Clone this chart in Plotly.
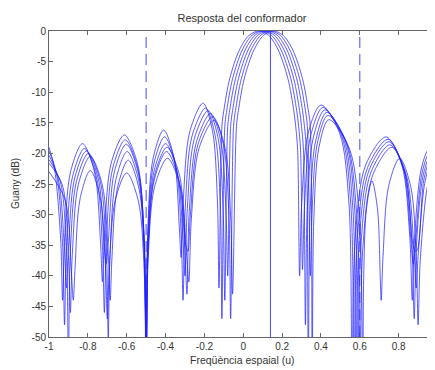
import plotly.graph_objects as go

# ---- data ----
U_A = [-1.0, -0.972, -0.94, -0.93,
       -0.92, -0.889, -0.8275, -0.766, -0.735, -0.725,
       -0.714, -0.68, -0.6125, -0.545, -0.511, -0.5,
       -0.491, -0.464, -0.41, -0.356, -0.329, -0.32,
       -0.309, -0.275, -0.207, -0.158, -0.133, -0.125,
       -0.11, -0.10, -0.07, -0.02, 0.03, 0.08, 0.13, 0.18, 0.23, 0.26, 0.27, 0.28, 0.29,
       0.301, 0.334, 0.40, 0.496, 0.544, 0.56,
       0.5775, 0.63, 0.735, 0.816, 0.8565, 0.87,
       0.881, 0.914, 0.95, 0.985]
DB_A = [-19.0, -22.4, -34.0, -44,
        -34.4, -23.0, -18.4, -23.0, -34.4, -41,
        -33.0, -21.6, -17.0, -21.6, -33.0, -60,
        -32.2, -20.8, -16.2, -20.8, -32.2, -37,
        -27.8, -16.4, -11.8, -16.4, -27.8, -42,
        -15.6, -13.0, -7.8, -3.1, -0.7, 0, -0.7, -3.1, -7.8, -13.0, -15.6, -19.5, -40,
        -28.1, -16.7, -12.1, -16.7, -28.1, -55,
        -33.3, -21.9, -17.3, -21.9, -33.3, -44,
        -34.3, -22.9, -19.4, -18.3]

U_B = [-1.0, -0.962, -0.9305, -0.92,
       -0.91, -0.879, -0.8175, -0.756, -0.725, -0.715,
       -0.704, -0.672, -0.6075, -0.543, -0.511, -0.5,
       -0.4905, -0.462, -0.405, -0.348, -0.3195, -0.31,
       -0.298, -0.264, -0.194, -0.144, -0.118, -0.11,
       -0.095, -0.085, -0.055, -0.005, 0.045, 0.095, 0.145, 0.195, 0.245, 0.275, 0.285, 0.295, 0.305,
       0.3155, 0.347, 0.41, 0.506, 0.554, 0.57,
       0.5875, 0.64, 0.745, 0.823, 0.862, 0.875,
       0.886, 0.919, 0.955, 0.985]
DB_B = [-19.6, -23.2, -34.6, -48,
        -35.2, -23.8, -19.2, -23.8, -35.2, -46,
        -33.8, -22.4, -17.8, -22.4, -33.8, -60,
        -33.3, -21.9, -17.3, -21.9, -33.3, -44,
        -28.6, -17.2, -12.6, -17.2, -28.6, -47,
        -15.6, -13.0, -7.8, -3.1, -0.7, 0, -0.7, -3.1, -7.8, -13.0, -15.6, -19.5, -39,
        -28.5, -17.1, -12.5, -17.1, -28.5, -60,
        -33.7, -22.3, -17.7, -22.3, -33.7, -38,
        -34.8, -23.4, -19.9, -18.8]

U_C = [-1.0, -0.952, -0.9205, -0.91,
       -0.90, -0.869, -0.8075, -0.746, -0.715, -0.705,
       -0.695, -0.664, -0.6025, -0.541, -0.51, -0.5,
       -0.49, -0.46, -0.40, -0.34, -0.31, -0.30,
       -0.288, -0.252, -0.181, -0.129, -0.104, -0.095,
       -0.08, -0.07, -0.04, 0.01, 0.06, 0.11, 0.16, 0.21, 0.26, 0.29, 0.30, 0.31, 0.32,
       0.33, 0.36, 0.42, 0.516, 0.564, 0.58,
       0.597, 0.648, 0.75, 0.828, 0.867, 0.88,
       0.891, 0.924, 0.96, 0.985]
DB_C = [-20.3, -24.2, -35.6, -42,
        -35.6, -24.2, -19.6, -24.2, -35.6, -38,
        -34.5, -23.1, -18.5, -23.1, -34.5, -60,
        -34.4, -23.0, -18.4, -23.0, -34.4, -40,
        -29.0, -17.6, -13.0, -17.6, -29.0, -44,
        -15.6, -13.0, -7.8, -3.1, -0.7, 0, -0.7, -3.1, -7.8, -13.0, -15.6, -19.5, -48,
        -28.9, -17.5, -12.9, -17.5, -28.9, -56,
        -34.1, -22.7, -18.1, -22.7, -34.1, -47,
        -35.3, -23.9, -20.3, -19.3]

U_D = [-1.0, -0.942, -0.9105, -0.90,
       -0.89, -0.859, -0.7975, -0.736, -0.705, -0.695,
       -0.685, -0.656, -0.5975, -0.539, -0.51, -0.5,
       -0.4895, -0.458, -0.395, -0.332, -0.3005, -0.29,
       -0.278, -0.241, -0.168, -0.115, -0.089, -0.08,
       -0.065, -0.055, -0.025, 0.025, 0.075, 0.125, 0.175, 0.225, 0.275, 0.305, 0.315, 0.325, 0.335,
       0.3445, 0.373, 0.43, 0.526, 0.574, 0.59,
       0.6065, 0.656, 0.755, 0.833, 0.872, 0.885,
       0.896, 0.929, 0.96, 0.985]
DB_D = [-21.0, -24.6, -36.0, -55,
        -36.0, -24.6, -20.0, -24.6, -36.0, -50,
        -35.7, -24.3, -19.7, -24.3, -35.7, -60,
        -35.7, -24.3, -19.7, -24.3, -35.7, -43,
        -29.5, -18.1, -13.5, -18.1, -29.5, -40,
        -15.6, -13.0, -7.8, -3.1, -0.7, 0, -0.7, -3.1, -7.8, -13.0, -15.6, -19.5, -55,
        -29.3, -17.9, -13.3, -17.9, -29.3, -60,
        -34.6, -23.2, -18.6, -23.2, -34.6, -36,
        -35.8, -24.4, -21.0, -19.8]

U_E = [-1.0, -0.932, -0.9005, -0.89,
       -0.88, -0.849, -0.7875, -0.726, -0.695, -0.685,
       -0.676, -0.648, -0.5925, -0.537, -0.509, -0.5,
       -0.489, -0.457, -0.3925, -0.328, -0.296, -0.285,
       -0.272, -0.234, -0.157, -0.102, -0.074, -0.065,
       -0.05, -0.04, -0.01, 0.04, 0.09, 0.14, 0.19, 0.24, 0.29, 0.32, 0.33, 0.345,
       0.354, 0.381, 0.435, 0.534, 0.5835, 0.60,
       0.6165, 0.666, 0.765, 0.84, 0.8775, 0.89,
       0.901, 0.934, 0.965, 0.985]
DB_E = [-21.6, -25.1, -36.5, -46,
        -36.5, -25.1, -20.5, -25.1, -36.5, -44,
        -37.1, -25.7, -21.1, -25.7, -37.1, -60,
        -35.0, -23.6, -19.0, -23.6, -35.0, -36,
        -30.0, -18.6, -14.0, -18.6, -30.0, -47,
        -15.6, -13.0, -7.8, -3.1, -0.7, 0, -0.7, -3.1, -7.8, -13.0, -15.6, -40,
        -29.8, -18.4, -13.8, -18.4, -29.8, -60,
        -35.0, -23.6, -19.0, -23.6, -35.0, -42,
        -36.3, -24.9, -21.3, -20.3]

U_F = [-1.0, -0.917, -0.8855, -0.875,
       -0.866, -0.84, -0.7875, -0.735, -0.709, -0.70,
       -0.69, -0.66, -0.60, -0.54, -0.51, -0.5,
       -0.489, -0.456, -0.39, -0.324, -0.291, -0.28,
       -0.267, -0.228, -0.15, -0.093, -0.0645, -0.055,
       -0.035, -0.025, 0.005, 0.055, 0.105, 0.155, 0.205, 0.255, 0.305, 0.335, 0.345, 0.355,
       0.3635, 0.389, 0.44, 0.545, 0.5975, 0.615,
       0.6198, 0.634, 0.6625, 0.691, 0.7053, 0.71,
       0.7195, 0.748, 0.805, 0.862, 0.8905, 0.90,
       0.911, 0.944, 0.97, 0.985]
DB_F = [-23.0, -27.6, -39.0, -44,
        -38.8, -27.4, -22.8, -27.4, -38.8, -47,
        -39.2, -27.8, -23.2, -27.8, -39.2, -60,
        -36.8, -25.4, -20.8, -25.4, -36.8, -41,
        -30.6, -19.2, -14.6, -19.2, -30.6, -43,
        -15.6, -13.0, -7.8, -3.1, -0.7, 0, -0.7, -3.1, -7.8, -13.0, -15.6, -60,
        -30.5, -19.1, -14.5, -19.1, -30.5, -60,
        -40.5, -29.1, -24.5, -29.1, -40.5, -44,
        -36.8, -25.4, -20.8, -25.4, -36.8, -48,
        -37.5, -26.1, -22.5, -21.5]

INTERFERENCE_U = [-0.5, 0.6]   # dashed lines
STEERING_U = [0.14]            # solid line

X_TICKS = [-1, -0.8, -0.6, -0.4, -0.2, 0, 0.2, 0.4, 0.6, 0.8, 1]
X_TICK_LABELS = ["-1", "-0.8", "-0.6", "-0.4", "-0.2", "0", "0.2", "0.4", "0.6", "0.8", "1"]
Y_TICKS = [0, -5, -10, -15, -20, -25, -30, -35, -40, -45, -50]
Y_TICK_LABELS = ["0", "-5", "-10", "-15", "-20", "-25", "-30", "-35", "-40", "-45", "-50"]

TITLE = "Resposta del conformador"
X_LABEL = "Freqüència espaial (u)"
Y_LABEL = "Guany (dB)"

CURVES = [(U_A, DB_A), (U_B, DB_B), (U_C, DB_C), (U_D, DB_D), (U_E, DB_E), (U_F, DB_F)]

LINE_COLOR = "rgba(30,30,255,0.72)"
AXIS_COLOR = "#666666"
TEXT_COLOR = "#333333"
FONT = "Liberation Sans, Arial, sans-serif"

# page body has an 8px margin; figure placed so plot box is at x 49..435, y 31..337
FIG_W, FIG_H = 427, 362
M_L, M_R, M_T, M_B = 41, 0, 23, 33
PLOT_H = FIG_H - M_T - M_B
PLOT_W = FIG_W - M_L - M_R

fig = go.Figure()
for u, db in CURVES:
    fig.add_trace(go.Scatter(
        x=u, y=db, mode="lines",
        line=dict(color=LINE_COLOR, width=1, shape="spline", smoothing=0.9),
        hoverinfo="skip", showlegend=False,
    ))

for v in INTERFERENCE_U:
    fig.add_vline(x=v, line=dict(color="rgba(40,40,255,0.85)", width=1, dash="11px,6px"))
for v in STEERING_U:
    fig.add_vline(x=v, line=dict(color="rgba(40,40,255,0.85)", width=1))

fig.update_layout(
    width=FIG_W, height=FIG_H,
    margin=dict(l=M_L, r=M_R, t=M_T, b=M_B, pad=0),
    paper_bgcolor="white", plot_bgcolor="white",
    font=dict(family=FONT, size=10, color=TEXT_COLOR),
    title=dict(text=TITLE, x=0.5, xref="paper", xanchor="center",
               y=1 - 10 / FIG_H, yref="container", yanchor="middle",
               font=dict(family=FONT, size=11, color=TEXT_COLOR)),
    xaxis=dict(range=[-1, 0.987], tickvals=X_TICKS, ticktext=X_TICK_LABELS,
               ticks="inside", ticklen=4, tickcolor=AXIS_COLOR, tickwidth=1,
               showline=True, linecolor=AXIS_COLOR, linewidth=1, mirror="ticks",
               showgrid=False, zeroline=False,
               tickfont=dict(family=FONT, size=10, color=TEXT_COLOR)),
    yaxis=dict(range=[-50, 0], tickvals=Y_TICKS, ticktext=Y_TICK_LABELS,
               ticks="inside", ticklen=4, tickcolor=AXIS_COLOR, tickwidth=1,
               showline=True, linecolor=AXIS_COLOR, linewidth=1, mirror=False,
               showgrid=False, zeroline=False,
               tickfont=dict(family=FONT, size=10, color=TEXT_COLOR)),
    annotations=[
        dict(text=X_LABEL, xref="paper", yref="paper", x=0.5, y=-23 / PLOT_H,
             xanchor="center", yanchor="middle", showarrow=False,
             font=dict(family=FONT, size=10.5, color=TEXT_COLOR)),
        dict(text=Y_LABEL, xref="paper", yref="paper", x=-34 / PLOT_W, y=0.5,
             xanchor="center", yanchor="middle", showarrow=False, textangle=-90,
             font=dict(family=FONT, size=10, color=TEXT_COLOR)),
    ],
)

fig.write_html("out.html")
